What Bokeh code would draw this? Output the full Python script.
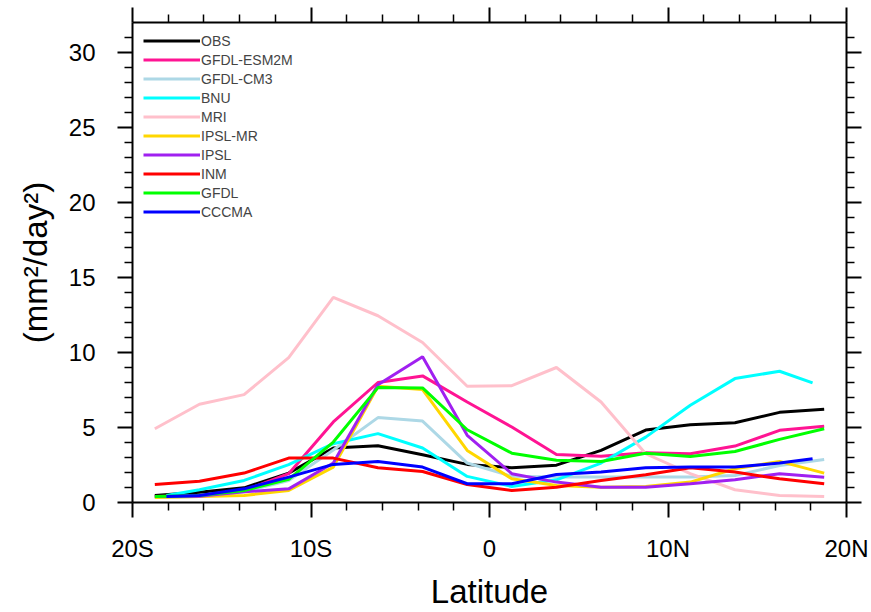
from bokeh.plotting import figure
from bokeh.models import Range1d, LinearAxis, FixedTicker, Legend, LegendItem
from bokeh.embed import file_html
from bokeh.resources import INLINE

lat = [-18.75, -16.25, -13.75, -11.25, -8.75, -6.25, -3.75, -1.25,
       1.25, 3.75, 6.25, 8.75, 11.25, 13.75, 16.25, 18.75]
lat_short = [-18.1, -16.25, -13.75, -11.25, -8.75, -6.25, -3.75, -1.25,
             1.25, 3.75, 6.25, 8.75, 11.25, 13.75, 16.25, 18.1]

obs = [0.47, 0.69, 0.98, 1.96, 3.63, 3.78, 3.18, 2.54, 2.32, 2.49, 3.47, 4.83, 5.19, 5.32, 6.01, 6.21]
gfdl_esm2m = [0.40, 0.47, 0.80, 1.92, 5.37, 8.00, 8.44, 6.70, 5.03, 3.20, 3.09, 3.32, 3.25, 3.76, 4.81, 5.08]
gfdl_cm3 = [0.33, 0.40, 0.71, 1.47, 3.50, 5.66, 5.43, 2.63, 1.75, 1.70, 1.70, 1.70, 1.70, 1.80, 2.47, 2.87]
bnu = [0.47, 0.85, 1.47, 2.52, 3.92, 4.59, 3.63, 1.74, 1.07, 1.51, 2.63, 4.36, 6.48, 8.26, 8.75, 7.97]
mri = [4.92, 6.55, 7.19, 9.66, 13.67, 12.45, 10.67, 7.75, 7.79, 9.00, 6.70, 3.25, 1.92, 0.85, 0.47, 0.40]
ipsl_mr = [0.33, 0.40, 0.47, 0.80, 2.36, 7.75, 7.53, 3.47, 1.58, 1.14, 1.02, 1.07, 1.36, 2.25, 2.74, 1.96]
ipsl = [0.40, 0.42, 0.71, 0.91, 2.63, 7.85, 9.71, 4.48, 1.92, 1.36, 1.02, 1.02, 1.25, 1.51, 1.92, 1.69]
inm = [1.20, 1.42, 1.96, 2.96, 2.96, 2.32, 2.07, 1.20, 0.80, 1.02, 1.47, 1.85, 2.32, 2.03, 1.58, 1.25]
gfdl = [0.40, 0.47, 0.80, 1.54, 4.03, 7.66, 7.64, 4.85, 3.29, 2.81, 2.74, 3.29, 3.07, 3.40, 4.21, 4.92]
cccma = [0.40, 0.47, 0.91, 1.69, 2.54, 2.74, 2.36, 1.25, 1.25, 1.87, 2.03, 2.32, 2.36, 2.36, 2.63, 2.92]

series = [
    ("OBS", lat, obs, "#000000"),
    ("GFDL-ESM2M", lat, gfdl_esm2m, "#FF1493"),
    ("GFDL-CM3", lat, gfdl_cm3, "#ADD8E6"),
    ("BNU", lat_short, bnu, "#00FFFF"),
    ("MRI", lat, mri, "#FFC0CB"),
    ("IPSL-MR", lat, ipsl_mr, "#FFD700"),
    ("IPSL", lat, ipsl, "#A020F0"),
    ("INM", lat, inm, "#FF0000"),
    ("GFDL", lat, gfdl, "#00FF00"),
    ("CCCMA", lat_short, cccma, "#0000FF"),
]

x_major = [-20, -10, 0, 10, 20]
x_labels = ["20S", "10S", "0", "10N", "20N"]
x_minor = [-18, -16, -14, -12, -8, -6, -4, -2, 2, 4, 6, 8, 12, 14, 16, 18]
y_major = [0, 5, 10, 15, 20, 25, 30]
y_minor = [1, 2, 3, 4, 6, 7, 8, 9, 11, 12, 13, 14, 16, 17, 18, 19, 21, 22, 23, 24, 26, 27, 28, 29, 31]

FONT = "Liberation Sans"

p = figure(width=871, height=612, x_range=Range1d(-20, 20), y_range=Range1d(0, 32),
           output_backend="svg", toolbar_location=None,
           min_border_left=132, min_border_right=25, min_border_top=22, min_border_bottom=110,
           x_axis_location=None, y_axis_location=None)
p.grid.visible = False
p.outline_line_color = None
p.background_fill_color = "white"
p.border_fill_color = "white"


def style_axis(ax, show_labels, is_x):
    ax.ticker = FixedTicker(ticks=x_major if is_x else y_major,
                            minor_ticks=x_minor if is_x else y_minor)
    ax.axis_line_width = 2
    ax.axis_line_color = "black"
    ax.major_tick_line_width = 2
    ax.minor_tick_line_width = 1.5
    ax.major_tick_in = 0
    ax.major_tick_out = 15
    ax.minor_tick_in = 0
    ax.minor_tick_out = 8
    if show_labels:
        ax.major_label_text_font = FONT
        ax.major_label_text_font_size = "24px"
        ax.major_label_text_color = "black"
        ax.axis_label_text_font = FONT
        ax.axis_label_text_font_size = "33px"
        ax.axis_label_text_font_style = "normal"
        ax.axis_label_text_color = "black"
    else:
        ticks = x_major if is_x else y_major
        ax.major_label_overrides = {t: "" for t in ticks}
        ax.major_label_text_font_size = "1px"
        ax.major_label_standoff = 0
        ax.axis_label = None


xb = LinearAxis(axis_label="Latitude")
style_axis(xb, True, True)
xb.major_label_overrides = {v: s for v, s in zip(x_major, x_labels)}
xb.major_label_standoff = 17
xb.axis_label_standoff = 8
p.add_layout(xb, "below")

xt = LinearAxis()
style_axis(xt, False, True)
p.add_layout(xt, "above")

yl = LinearAxis(axis_label="(mm²/day²)")
style_axis(yl, True, False)
yl.major_label_standoff = 22
yl.axis_label_standoff = 12
p.add_layout(yl, "left")

yr = LinearAxis()
style_axis(yr, False, False)
p.add_layout(yr, "right")

items = []
for name, xs, ys, col in series:
    r = p.line(xs, ys, line_color=col, line_width=3)
    items.append(LegendItem(label=name, renderers=[r]))

legend = Legend(items=items, location=(11, 281), padding=0, margin=0, spacing=0,
                glyph_width=57, glyph_height=19, label_height=19, label_standoff=1,
                label_text_font=FONT, label_text_font_size="14px",
                background_fill_alpha=0, border_line_color=None)
p.add_layout(legend)

open("out.html", "w").write(file_html(p, INLINE))
